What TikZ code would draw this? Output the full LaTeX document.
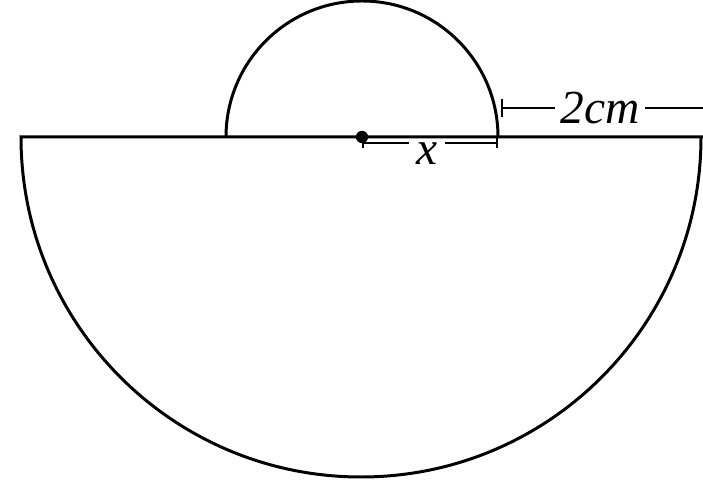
\documentclass[tikz,border=0pt]{standalone}
\usepackage{fontspec}
\setmainfont{Liberation Serif}
\usepackage{tikz}
\usetikzlibrary{positioning, arrows.meta, calc}

\begin{document}
\begin{tikzpicture}[x=0.02cm, y=0.02cm,
  every node/.style={font=\fontsize{27}{29}\selectfont\itshape},
  outline/.style={line width=1.7pt, line join=miter},
  dimline/.style={line width=1.2pt},
  tick/.style={{Bar[width=#1, line width=1.2pt]}-},
  dot/.style={circle, fill, inner sep=0pt, minimum size=7pt}
]
\useasboundingbox (0,0) rectangle (703,486);

% base line and the two half discs
\coordinate (left)  at (21,349);
\coordinate (right) at (703,349);
\draw[outline] (right) -- (left) arc[start angle=180, end angle=360, radius=340];
\draw[outline] (226,349) arc[start angle=180, end angle=0, radius=136];
\node[dot] (centre) at (362,349) {};

% radius x
\coordinate (xa) at (362,343);
\coordinate (xb) at (498,343);
\node[inner sep=4pt] (xlab) at (427,332.5) {x};
\draw[dimline, tick=6pt] (xa) -- (xa -| xlab.west);
\draw[dimline, tick=6pt] (xb) -- (xb -| xlab.east);

% width of the ring
\coordinate (wa) at (501,378);
\coordinate (wb) at (703,378);
\node[inner sep=3pt, anchor=base] (wlab) at (600,362) {2cm};
\draw[dimline, tick=10pt] (wa) -- (wa -| wlab.west);
\draw[dimline] (wlab.east |- wb) -- (wb);
\end{tikzpicture}
\end{document}
